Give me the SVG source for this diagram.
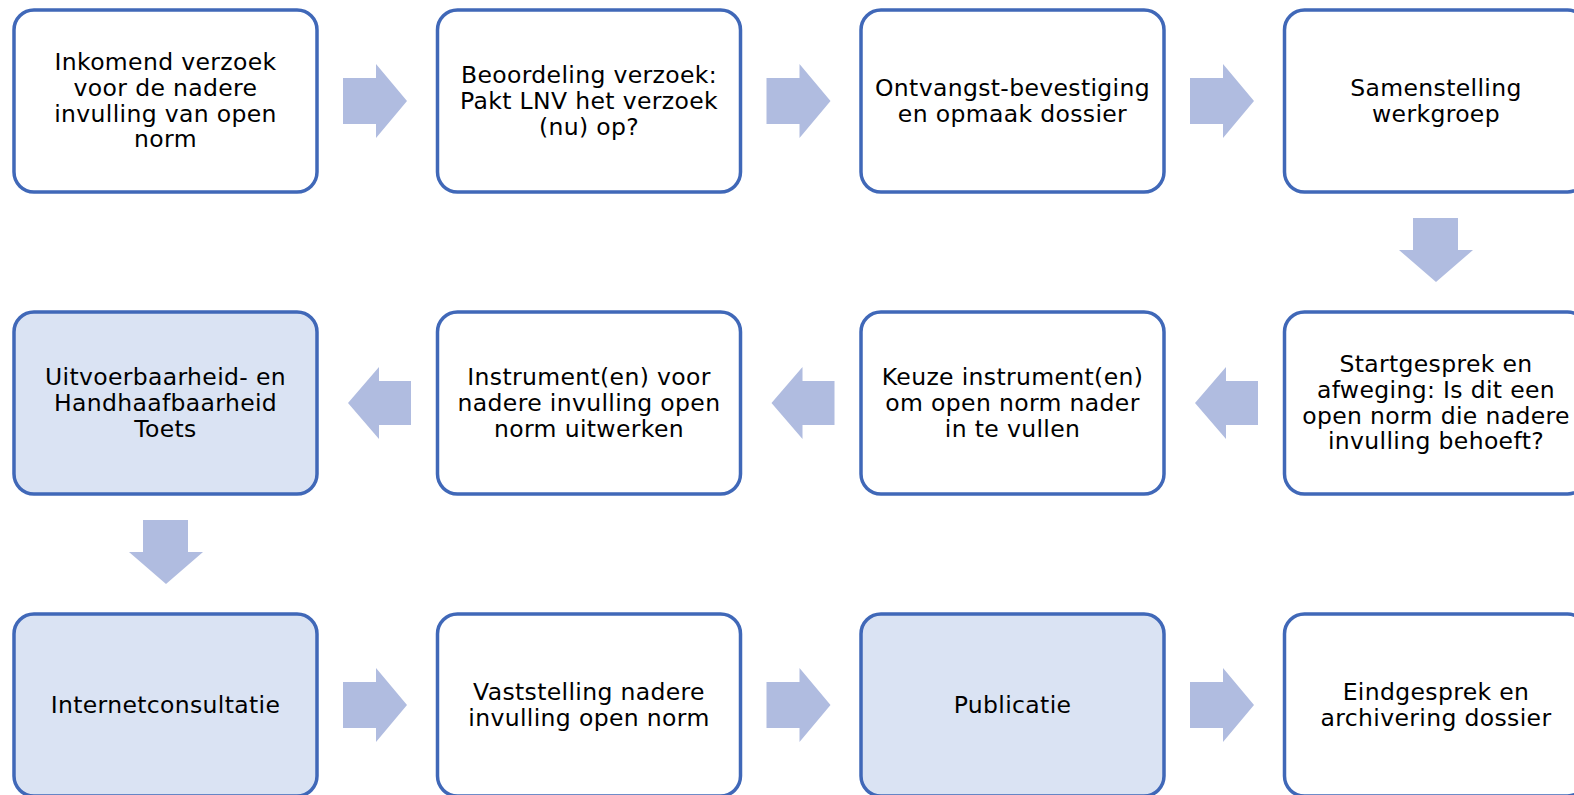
<svg xmlns="http://www.w3.org/2000/svg" width="1574" height="795" viewBox="0 0 1574 795">
<style>
.box{fill:#ffffff;stroke:#4068B8;stroke-width:3.5}
.hl{fill:#DAE3F3}
.arr{fill:#B0BCE0}
text{font-family:"DejaVu Sans",Verdana,sans-serif;font-size:23.5px;fill:#000;text-anchor:middle;letter-spacing:0.35px}
</style>
<defs>
<polygon id="ar" points="343,78 376,78 376,64 407,101 376,138 376,124 343,124" class="arr"/>
<polygon id="al" points="411,381 379,381 379,367 348,403 379,439 379,425 411,425" class="arr"/>
<polygon id="ad" points="143,520 188,520 188,552 203,552 166,584 129,552 143,552" class="arr"/>
</defs>
<g id="connectors">
<use href="#ar"/>
<use href="#ar" x="423.5"/>
<use href="#ar" x="847"/>
<use href="#ad" x="1270" y="-302"/>
<use href="#al"/>
<use href="#al" x="423.5"/>
<use href="#al" x="847"/>
<use href="#ad"/>
<use href="#ar" y="604"/>
<use href="#ar" x="423.5" y="604"/>
<use href="#ar" x="847" y="604"/>
</g>
<g id="n1"><rect class="box" x="14" y="10" width="303" height="182" rx="20"/>
<text x="165.5" y="70">Inkomend verzoek</text><text x="165.5" y="95.8">voor de nadere</text><text x="165.5" y="121.6">invulling van open</text><text x="165.5" y="147.4">norm</text></g>
<g id="n2"><rect class="box" x="437.5" y="10" width="303" height="182" rx="20"/>
<text x="589" y="82.9">Beoordeling verzoek:</text><text x="589" y="108.7">Pakt LNV het verzoek</text><text x="589" y="134.5">(nu) op?</text></g>
<g id="n3"><rect class="box" x="861" y="10" width="303" height="182" rx="20"/>
<text x="1012.5" y="95.8">Ontvangst-bevestiging</text><text x="1012.5" y="121.6">en opmaak dossier</text></g>
<g id="n4"><rect class="box" x="1284.5" y="10" width="303" height="182" rx="20"/>
<text x="1436" y="95.8">Samenstelling</text><text x="1436" y="121.6">werkgroep</text></g>
<g id="n5"><rect class="box" x="1284.5" y="312" width="303" height="182" rx="20"/>
<text x="1436" y="372">Startgesprek en</text><text x="1436" y="397.8">afweging: Is dit een</text><text x="1436" y="423.6">open norm die nadere</text><text x="1436" y="449.4">invulling behoeft?</text></g>
<g id="n6"><rect class="box" x="861" y="312" width="303" height="182" rx="20"/>
<text x="1012.5" y="384.9">Keuze instrument(en)</text><text x="1012.5" y="410.7">om open norm nader</text><text x="1012.5" y="436.5">in te vullen</text></g>
<g id="n7"><rect class="box" x="437.5" y="312" width="303" height="182" rx="20"/>
<text x="589" y="384.9">Instrument(en) voor</text><text x="589" y="410.7">nadere invulling open</text><text x="589" y="436.5">norm uitwerken</text></g>
<g id="n8"><rect class="box hl" x="14" y="312" width="303" height="182" rx="20"/>
<text x="165.5" y="384.9">Uitvoerbaarheid- en</text><text x="165.5" y="410.7">Handhaafbaarheid</text><text x="165.5" y="436.5">Toets</text></g>
<g id="n9"><rect class="box hl" x="14" y="614" width="303" height="182" rx="20"/>
<text x="165.5" y="712.7">Internetconsultatie</text></g>
<g id="n10"><rect class="box" x="437.5" y="614" width="303" height="182" rx="20"/>
<text x="589" y="699.8">Vaststelling nadere</text><text x="589" y="725.6">invulling open norm</text></g>
<g id="n11"><rect class="box hl" x="861" y="614" width="303" height="182" rx="20"/>
<text x="1012.5" y="712.7">Publicatie</text></g>
<g id="n12"><rect class="box" x="1284.5" y="614" width="303" height="182" rx="20"/>
<text x="1436" y="699.8">Eindgesprek en</text><text x="1436" y="725.6">archivering dossier</text></g>
</svg>
